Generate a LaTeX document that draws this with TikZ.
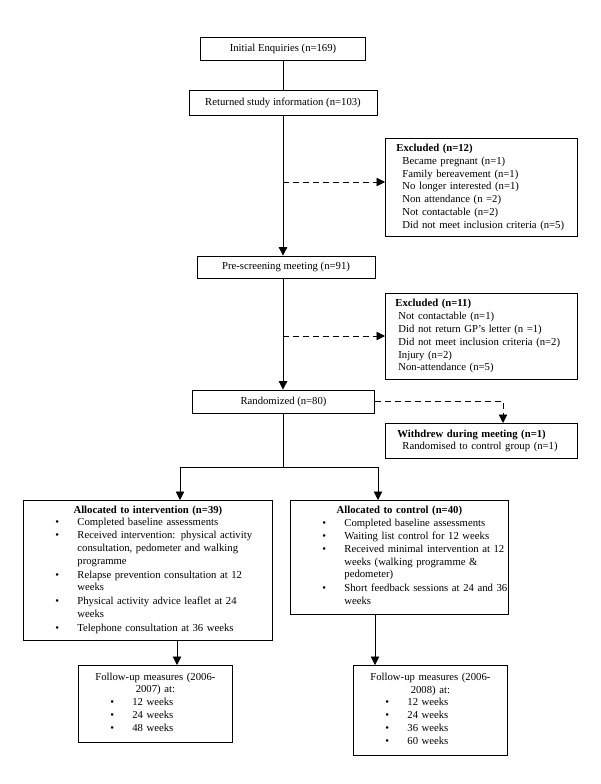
\documentclass[tikz,border=0pt]{standalone}
\usepackage{fontspec}
\setmainfont{Liberation Serif}
\usetikzlibrary{arrows.meta}
\newcommand{\tfont}{\fontsize{10.7}{12.8}\selectfont\parindent=0pt}
\newcommand{\bitem}[1]{\par\noindent\hspace*{28pt}\makebox[22pt][l]{\textbullet}\begin{tabular}[t]{@{}l@{}}#1\end{tabular}\par}
\tikzset{
  box/.style={draw, line width=0.8pt, font=\tfont, inner xsep=4pt, inner ysep=3pt},
  exbox/.style={box, anchor=north west, text width=184pt, align=left},
  flow/.style={line width=0.8pt, -{Triangle[length=8.5pt,width=8.5pt]}},
  side/.style={flow, dash pattern=on 6pt off 4pt},
  link/.style={line width=0.8pt}
}

\begin{document}
\begin{tikzpicture}[x=1pt,y=-1pt]
\useasboundingbox (0,0) rectangle (600,784);

% main column
\node[box, minimum width=165pt, minimum height=23pt] (enq) at (283,48.5) {Initial Enquiries (n=169)};
\node[box, minimum width=188pt, minimum height=25pt] (ret) at (283,102.5) {Returned study information (n=103)};
\node[box, minimum width=178pt, minimum height=22pt] (pre) at (286,267) {Pre-screening meeting (n=91)};
\node[box, minimum width=182pt, minimum height=23pt] (rnd) at (283.5,401.5) {Randomized (n=80)};

% exclusions
\node[exbox, minimum height=98pt] (exa) at (385,138) {\hspace*{7pt}\textbf{Excluded (n=12)}\\
  \hspace*{13pt}Became pregnant (n=1)\\
  \hspace*{13pt}Family bereavement (n=1)\\
  \hspace*{13pt}No longer interested (n=1)\\
  \hspace*{13pt}Non attendance (n =2)\\
  \hspace*{13pt}Not contactable (n=2)\\
  \hspace*{13pt}Did not meet inclusion criteria (n=5)};
\node[exbox, minimum height=86pt] (exb) at (385,293) {\hspace*{6pt}\textbf{Excluded (n=11)}\\
  \hspace*{9pt}Not contactable (n=1)\\
  \hspace*{9pt}Did not return GP's letter (n =1)\\
  \hspace*{9pt}Did not meet inclusion criteria (n=2)\\
  \hspace*{9pt}Injury (n=2)\\
  \hspace*{9pt}Non-attendance (n=5)};
\node[exbox, minimum height=35pt] (wd) at (385,423) {\hspace*{8pt}\textbf{Withdrew during meeting (n=1)}\\
  \hspace*{13pt}Randomised to control group (n=1)};

% allocation
\node[box, anchor=north west, text width=241pt, minimum height=140pt] (intv) at (23,500) {%
  {\centering\textbf{Allocated to intervention (n=39)}\par}
  \bitem{Completed baseline assessments}
  \bitem{Received intervention: physical activity\\consultation, pedometer and walking\\programme}
  \bitem{Relapse prevention consultation at 12\\weeks}
  \bitem{Physical activity advice leaflet at 24\\weeks}
  \bitem{Telephone consultation at 36 weeks}};
\node[box, anchor=north west, text width=210pt, minimum height=114pt] (ctrl) at (290,500) {%
  {\centering\textbf{Allocated to control (n=40)}\par}
  \bitem{Completed baseline assessments}
  \bitem{Waiting list control for 12 weeks}
  \bitem{Received minimal intervention at 12\\weeks (walking programme \&\\pedometer)}
  \bitem{Short feedback sessions at 24 and 36\\weeks}};

% follow-up
\node[box, anchor=north west, text width=146pt, minimum height=77pt] (fua) at (78,665) {%
  {\centering Follow-up measures (2006-\\2007) at:\par}
  \bitem{12 weeks}
  \bitem{24 weeks}
  \bitem{48 weeks}};
\node[box, anchor=north west, text width=146pt, minimum height=90pt] (fub) at (353,665) {%
  {\centering Follow-up measures (2006-\\2008) at:\par}
  \bitem{12 weeks}
  \bitem{24 weeks}
  \bitem{36 weeks}
  \bitem{60 weeks}};

% connectors
\coordinate (ja) at (283,182);
\coordinate (jb) at (283,336);
\coordinate (split) at (283.5,467);
\coordinate (wdin) at ([xshift=118pt]wd.north west);
\coordinate (ain) at ([xshift=157pt]intv.north west);
\coordinate (cin) at ([xshift=88pt]ctrl.north west);
\coordinate (aout) at ([xshift=154pt]intv.south west);
\coordinate (cout) at ([xshift=85pt]ctrl.south west);

\draw[link] (enq.south) -- (ret.north);
\draw[flow] (ret.south) -- (ret.south |- pre.north);
\draw[flow] (ret.south |- pre.south) -- (ret.south |- rnd.north);
\draw[side] (ja) -- (ja -| exa.west);
\draw[side] (jb) -- (jb -| exb.west);
\draw[side] (rnd.east) -| (wdin);
\draw[link] (rnd.south) -- (split);
\draw[flow] (split) -| (ain);
\draw[flow] (split) -| (cin);
\draw[flow] (aout) -- (aout |- fua.north);
\draw[flow] (cout) -- (cout |- fub.north);
\end{tikzpicture}
\end{document}
